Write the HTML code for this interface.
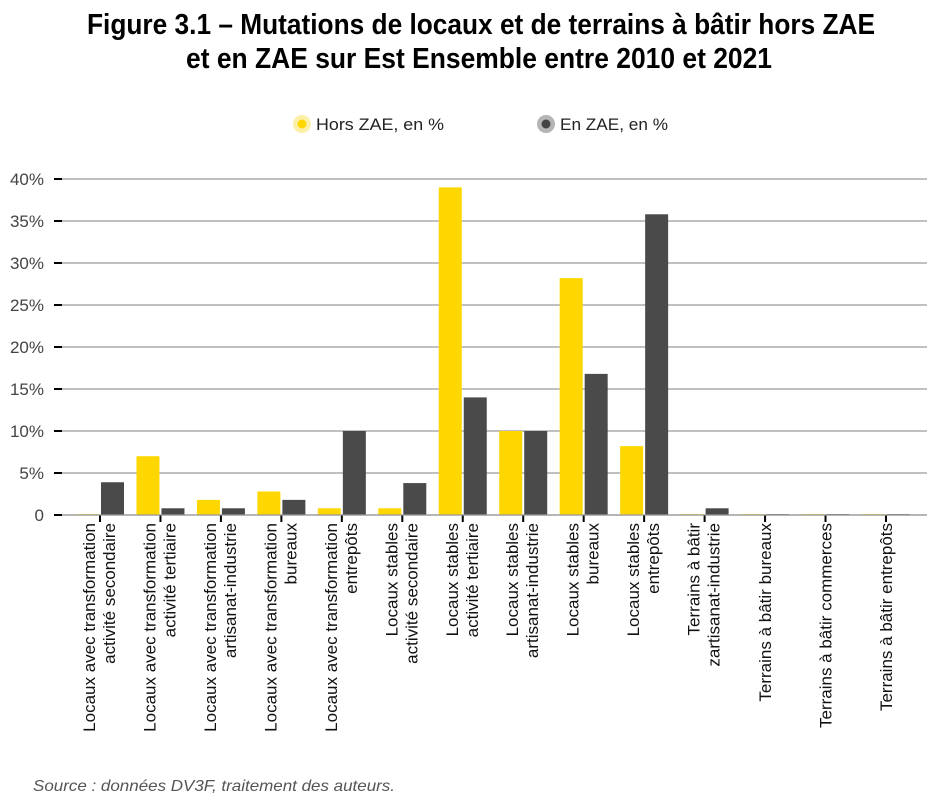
<!DOCTYPE html>
<html><head><meta charset="utf-8"><style>
html,body{margin:0;padding:0;background:#fff;}
svg{display:block;}
</style></head><body>
<svg width="931" height="800" viewBox="0 0 931 800" xmlns="http://www.w3.org/2000/svg" font-family="Liberation Sans, sans-serif">
<rect width="931" height="800" fill="#fff"/>
<text x="481" y="34" font-size="29" font-weight="bold" text-anchor="middle" textLength="788" lengthAdjust="spacingAndGlyphs" fill="#000">Figure 3.1 – Mutations de locaux et de terrains à bâtir hors ZAE</text>
<text x="479" y="68" font-size="29" font-weight="bold" text-anchor="middle" textLength="586" lengthAdjust="spacingAndGlyphs" fill="#000">et en ZAE sur Est Ensemble entre 2010 et 2021</text>
<circle cx="302" cy="124" r="9" fill="#fcefa8"/><circle cx="302" cy="124" r="4.5" fill="#ffd700"/>
<text x="316" y="130" font-size="17" textLength="128" lengthAdjust="spacingAndGlyphs" fill="#222">Hors ZAE, en %</text>
<circle cx="546" cy="124" r="9" fill="#b5b5b5"/><circle cx="546" cy="124" r="4.5" fill="#444"/>
<text x="560" y="130" font-size="17" textLength="108" lengthAdjust="spacingAndGlyphs" fill="#222">En ZAE, en %</text>
<g id="grid"></g>
<g id="bars"></g>
<g id="labels"></g>
<text x="33" y="791" font-size="16" font-style="italic" fill="#555" textLength="362" lengthAdjust="spacingAndGlyphs">Source : données DV3F, traitement des auteurs.</text>
<script>
var ns="http://www.w3.org/2000/svg";
function el(p,t,a,txt){var e=document.createElementNS(ns,t);for(var k in a)e.setAttribute(k,a[k]);if(txt!=null)e.textContent=txt;p.appendChild(e);return e;}
var g=document.getElementById('grid');
for(var i=0;i<=8;i++){var y=515-i*42;
el(g,'line',{x1:62,x2:927,y1:y,y2:y,stroke:'#9a9a9a','stroke-width':1.2});
el(g,'line',{x1:54,x2:62,y1:y,y2:y,stroke:'#000','stroke-width':2});
el(g,'text',{x:44,y:y+6,'font-size':17,'text-anchor':'end',fill:'#444'},i==0?'0':(i*5)+'%');}
var Y=[0.1,7,1.8,2.8,0.8,0.8,39,10,28.2,8.2,0.1,0.1,0.1,0.1];
var D=[3.9,0.8,0.8,1.8,10,3.8,14,10,16.8,35.8,0.8,0.1,0.1,0.1];
var L=[["Locaux avec transformation","activité secondaire"],["Locaux avec transformation","activité tertiaire"],["Locaux avec transformation","artisanat-industrie"],["Locaux avec transformation","bureaux"],["Locaux avec transformation","entrepôts"],["Locaux stables","activité secondaire"],["Locaux stables","activité tertiaire"],["Locaux stables","artisanat-industrie"],["Locaux stables","bureaux"],["Locaux stables","entrepôts"],["Terrains à bâtir","zartisanat-industrie"],["Terrains à bâtir bureaux"],["Terrains à bâtir commerces"],["Terrains à bâtir entrepôts"]];
var b=document.getElementById('bars'),lb=document.getElementById('labels');
for(var i=0;i<14;i++){var cx=100+i*60.46;
var h=Y[i]*8.4;el(b,'rect',{x:cx-24,y:515-h,width:23,height:Math.max(h,1),fill:'#ffd700'});
h=D[i]*8.4;el(b,'rect',{x:cx+1,y:515-h,width:23,height:Math.max(h,1),fill:'#4a4a4a'});
el(b,'line',{x1:cx,x2:cx,y1:515,y2:522,stroke:'#000','stroke-width':2});
var gg=el(lb,'g',{transform:'translate('+cx+',523) rotate(-90)'});
if(L[i].length==2){el(gg,'text',{x:0,y:-5,'font-size':17,'text-anchor':'end',fill:'#111'},L[i][0]);el(gg,'text',{x:0,y:15,'font-size':17,'text-anchor':'end',fill:'#111'},L[i][1]);}
else el(gg,'text',{x:0,y:6,'font-size':17,'text-anchor':'end',fill:'#111'},L[i][0]);}
el(b,'line',{x1:62,x2:927,y1:515,y2:515,stroke:'#9a9a9a','stroke-width':1.2});
</script>
</svg>
</body></html>
